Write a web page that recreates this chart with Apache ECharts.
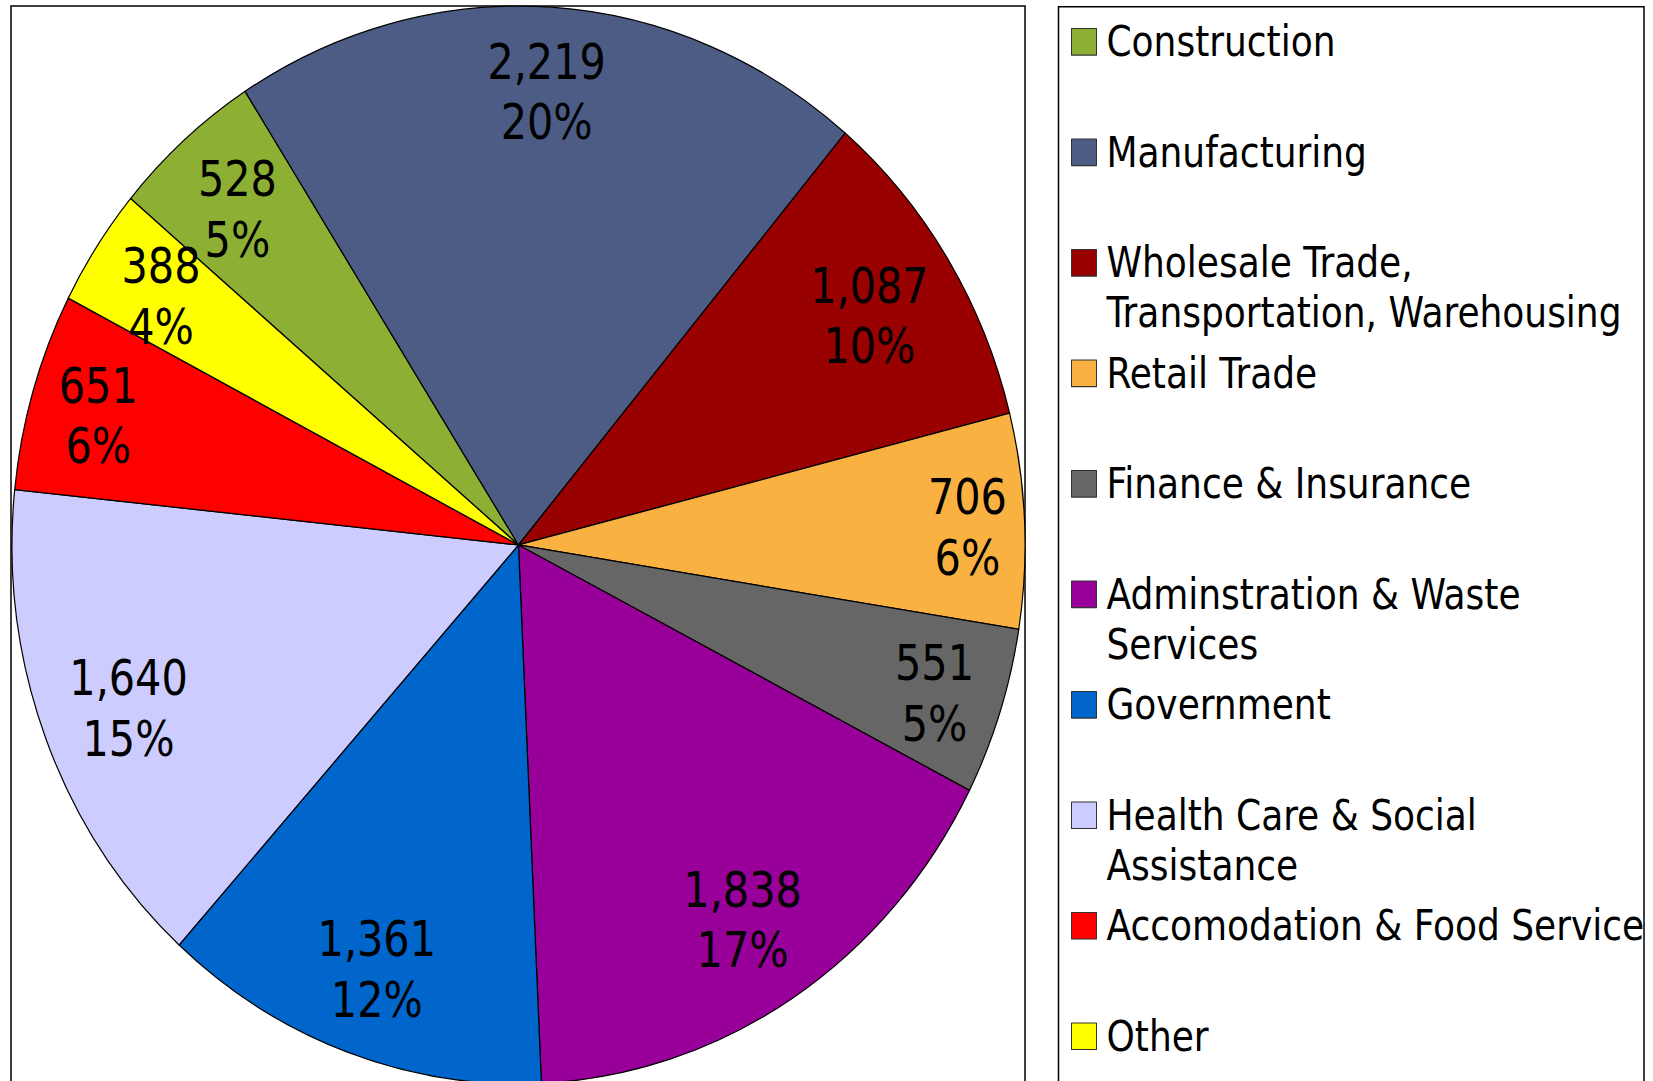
<!DOCTYPE html>
<html>
<head>
<meta charset="utf-8">
<title>Employment by Industry</title>
<script src="https://cdn.jsdelivr.net/npm/echarts@6/dist/echarts.min.js"></script>
<style>
  html, body { margin: 0; padding: 0; overflow: hidden; background: #fff; width: 1653px; height: 1081px; }
  /* the chart is drawn slightly taller than wide, so the pie comes out as an upright oval */
  #chart { width: 1653px; height: 1020px; transform: scaleY(1.064); transform-origin: 0 0; }
</style>
</head>
<body>
<div id="chart"></div>
<script>
// Industry categories, in clockwise order from the top-left
const categories = [
  "Construction",
  "Manufacturing",
  "Wholesale Trade, Transportation, Warehousing",
  "Retail Trade",
  "Finance & Insurance",
  "Adminstration & Waste Services",
  "Government",
  "Health Care & Social Assistance",
  "Accomodation & Food Service",
  "Other"
];

// Legend text, wrapped the way it is laid out in the legend box
const legendLines = [
  ["Construction"],
  ["Manufacturing"],
  ["Wholesale Trade,", "Transportation, Warehousing"],
  ["Retail Trade"],
  ["Finance & Insurance"],
  ["Adminstration & Waste", "Services"],
  ["Government"],
  ["Health Care & Social", "Assistance"],
  ["Accomodation & Food Service"],
  ["Other"]
];

// Employment per industry
const values = [528, 2219, 1087, 706, 551, 1838, 1361, 1640, 651, 388];

// Slice colours
const colors = [
  "#8DB034", "#4D5C84", "#990000", "#F9B241", "#666666",
  "#990099", "#0066CC", "#CCCCFF", "#FF0000", "#FFFF00"
];

const FONT = '"DejaVu Sans Condensed", "Liberation Sans", sans-serif';
const R = 506.5;
const CENTER = [518.5, 512.2];
const START = 140;
const LABEL_MARGIN = 12;
const LABEL_DROP = 4;

const pieData = values.map((v, i) => ({
  name: categories[i],
  value: v,
  itemStyle: { color: colors[i] }
}));

const fmtNum = n => n.toLocaleString("en-US");

// Each legend entry gets three lines (blank, first, second) so the first
// line always sits level with its swatch.
const legendText = {};
categories.forEach((c, i) => {
  const l = legendLines[i];
  legendText[c] = "\n" + l[0] + "\n" + (l[1] || " ");
});

const chart = echarts.init(document.getElementById("chart"), null, { renderer: "svg" });

// Put each value label just inside the rim along its slice's bisector,
// pushed in far enough that the label box's outer corner stays inside.
function insideEnd(params) {
  const data = chart.getModel().getSeriesByIndex(0).getData();
  const lay = data.getItemLayout(params.dataIndex);
  const mid = (lay.startAngle + lay.endAngle) / 2;
  const c = Math.cos(mid), s = Math.sin(mid);
  const hw = params.labelRect.width / 2, hh = params.labelRect.height / 2;
  const L = lay.r - LABEL_MARGIN;
  const B = Math.abs(c) * hw + Math.abs(s) * hh;
  const C = hw * hw + hh * hh - L * L;
  const d = -B + Math.sqrt(B * B - C);
  return { x: lay.cx + d * c, y: lay.cy + d * s + LABEL_DROP, hideOverlap: false };
}

chart.setOption({
  animation: false,
  backgroundColor: "#fff",
  graphic: [
    { type: "rect", z: -10, shape: { x: 11, y: 5.6, width: 1014, height: 1100 },
      style: { fill: "none", stroke: "#000", lineWidth: 1.5 } },
    { type: "rect", z: -10, shape: { x: 1058.5, y: 6.4, width: 585.5, height: 1100 },
      style: { fill: "none", stroke: "#000", lineWidth: 1.5 } }
  ],
  legend: {
    orient: "vertical",
    left: 1071,
    top: -31.2,
    height: 1400,
    padding: 0,
    itemGap: -37.15,
    itemWidth: 25,
    itemHeight: 25,
    icon: "rect",
    selectedMode: false,
    data: categories,
    itemStyle: { borderColor: "#333", borderWidth: 1 },
    formatter: name => legendText[name],
    textStyle: {
      fontFamily: FONT,
      fontSize: 40,
      lineHeight: 47,
      color: "#000",
      padding: [0, 0, 0, 5]
    }
  },
  series: [
    {
      type: "pie",
      center: CENTER,
      radius: R,
      startAngle: START,
      clockwise: true,
      silent: true,
      percentPrecision: 0,
      avoidLabelOverlap: false,
      data: pieData,
      itemStyle: { borderColor: "#000", borderWidth: 1.2 },
      label: {
        show: true,
        position: "inside",
        overflow: "none",
        formatter: p => fmtNum(p.value) + "\n" + p.percent + "%",
        fontFamily: FONT,
        fontSize: 46,
        lineHeight: 57,
        color: "#000",
        align: "center"
      },
      labelLine: { show: false },
      labelLayout: insideEnd,
      emphasis: { disabled: true }
    }
  ]
});
</script>
</body>
</html>
